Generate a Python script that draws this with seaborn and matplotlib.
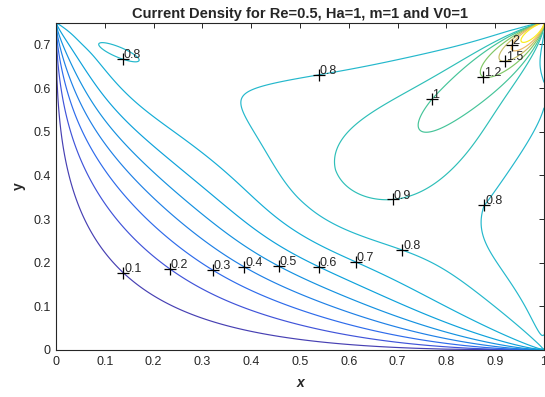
import numpy as np
import matplotlib
matplotlib.use("Agg")
import matplotlib.pyplot as plt
import seaborn as sns

# ---------------- data ----------------
title = "Current Density for Re=0.5, Ha=1, m=1 and V0=1"
x_label = "x"
y_label = "y"
x_ticks = [0, 0.1, 0.2, 0.3, 0.4, 0.5, 0.6, 0.7, 0.8, 0.9, 1.0]
x_tick_labels = ["0", "0.1", "0.2", "0.3", "0.4", "0.5", "0.6", "0.7", "0.8", "0.9", "1"]
y_ticks = [0, 0.1, 0.2, 0.3, 0.4, 0.5, 0.6, 0.7]
y_tick_labels = ["0", "0.1", "0.2", "0.3", "0.4", "0.5", "0.6", "0.7"]

levels = [0.1, 0.2, 0.3, 0.4, 0.5, 0.6, 0.7, 0.8, 0.9, 1.0, 1.2, 1.5, 2.0, 3.0]

# contour labels (level, text, approximate location)
label_levels = [0.1, 0.2, 0.3, 0.4, 0.5, 0.6, 0.7, 0.8, 0.8, 0.8, 0.8, 0.9, 1.0, 1.2, 1.5, 2.0]
label_texts = ["0.1", "0.2", "0.3", "0.4", "0.5", "0.6", "0.7", "0.8", "0.8", "0.8", "0.8",
               "0.9", "1", "1.2", "1.5", "2"]
label_x = [0.14, 0.23, 0.32, 0.39, 0.46, 0.545, 0.62, 0.71, 0.14, 0.54, 0.88, 0.69, 0.79, 0.87, 0.92, 0.93]
label_y = [0.18, 0.18, 0.18, 0.20, 0.20, 0.205, 0.215, 0.23, 0.675, 0.62, 0.33, 0.34, 0.555, 0.615, 0.645, 0.70]

# ---------------- field model ----------------
nx, ny = 501, 376
xs = np.linspace(0, 1, nx)
ys = np.linspace(0, 0.75, ny)
X, Y = np.meshgrid(xs, ys)
U = X
V = Y / 0.75

# superellipse exponent through the corners (0,1) and (1,0): U^p + V^p = 1
lo = np.full(U.shape, -8.0)
hi = np.full(U.shape, 8.0)
with np.errstate(divide="ignore", invalid="ignore", over="ignore"):
    for _ in range(60):
        mid = 0.5 * (lo + hi)
        pm = np.exp(mid)
        s = U ** pm + V ** pm
        big = s > 1
        lo = np.where(big, mid, lo)
        hi = np.where(big, hi, mid)
Pexp = np.exp(0.5 * (lo + hi))

G, k, a = 0.86, 4.7, 0.63
g = G * Pexp ** k / (Pexp ** k + a ** k)

td = 0.11 * np.exp(-((1 - V) / 0.24) ** 2)
wr = 0.22 * np.minimum(1.0, (V / 0.44) ** 1.5) + 0.005
rd = 0.12 * np.exp(-((1 - U) / wr) ** 2) * (1 - np.exp(-(V / 0.05) ** 2))
D = 1 - np.maximum(td, rd)

du, dv = U - 0.75, V - 0.62
ma = (du + dv) / np.sqrt(2)
mi = (du - dv) / np.sqrt(2)
B1 = 0.10 * np.exp(-(ma / 0.35) ** 2 - (mi / 0.17) ** 2)

dxc, dyc = 1 - U, 1 - V
r = np.maximum(np.hypot(dxc, dyc), 1e-4)
th = np.degrees(np.arctan2(dyc, dxc))
B2 = 0.029 * np.exp(-((th - 53) / 15) ** 2) / r ** 1.68 * np.exp(-(r / 0.6) ** 2)

Bt = 0.05 * np.exp(-((U - 0.15) / 0.15) ** 2 - ((V - 0.85) / 0.2) ** 2) * (g / G)

du, dv = U - 0.115, V - 0.915
ma = du * 0.832 - dv * 0.555
mi = du * 0.555 + dv * 0.832
Bi = 0.08 * np.exp(-(ma / 0.05) ** 2 - (mi / 0.015) ** 2)

F = np.minimum(g * D + B1 + B2 + Bt + Bi, 10)

# ---------------- style ----------------
sns.set_theme(style="white")
plt.rcParams["font.family"] = ["Liberation Sans", "DejaVu Sans"]

level_colors = [
    (0.28, 0.25, 0.70), (0.25, 0.33, 0.85), (0.18, 0.42, 0.92), (0.12, 0.50, 0.90),
    (0.08, 0.57, 0.88), (0.05, 0.63, 0.86), (0.08, 0.68, 0.84), (0.14, 0.72, 0.80),
    (0.18, 0.75, 0.72), (0.27, 0.77, 0.60), (0.50, 0.78, 0.40), (0.78, 0.74, 0.40),
    (0.92, 0.72, 0.40), (0.98, 0.93, 0.10),
]

fig = plt.figure(figsize=(5.45, 3.97), dpi=100)
ax = fig.add_axes([56 / 545, 47 / 397, 488 / 545, 327.5 / 397])

cs = ax.contour(X, Y, F, levels=levels, colors=level_colors, linewidths=0.85)

sx, sy = 488.5, 436.7
for lev, txt, tx, ty in zip(label_levels, label_texts, label_x, label_y):
    idx = levels.index(lev)
    segs = [sgm for sgm in cs.allsegs[idx] if len(sgm)]
    if not segs:
        continue
    pts = np.concatenate(segs)
    d2 = ((pts[:, 0] - tx) * sx) ** 2 + ((pts[:, 1] - ty) * sy) ** 2
    px, py = pts[np.argmin(d2)]
    ax.plot(px, py, marker="+", color="black", markersize=8, mew=0.9, zorder=5)
    ax.annotate(txt, (px, py), xytext=(0.5, -1.5), textcoords="offset points",
                ha="left", va="bottom", fontsize=9, color=(0.15, 0.15, 0.15), zorder=6)

ax.set_xlim(0, 1)
ax.set_ylim(0, 0.75)
ax.set_xticks(x_ticks)
ax.set_xticklabels(x_tick_labels)
ax.set_yticks(y_ticks)
ax.set_yticklabels(y_tick_labels)
ax.tick_params(direction="in", length=3.5, width=0.7, colors=(0.15, 0.15, 0.15),
               labelsize=9, top=True, right=True, pad=4)
for sp in ax.spines.values():
    sp.set_visible(True)
    sp.set_color((0.15, 0.15, 0.15))
    sp.set_linewidth(0.8)

ax.set_title(title, fontsize=10.5, fontweight="bold", pad=3)
ax.set_xlabel(x_label, fontsize=10, fontweight="bold", style="italic", labelpad=6)
ax.set_ylabel(y_label, fontsize=10, fontweight="bold", labelpad=5)

fig.savefig("out.png", dpi=100)
